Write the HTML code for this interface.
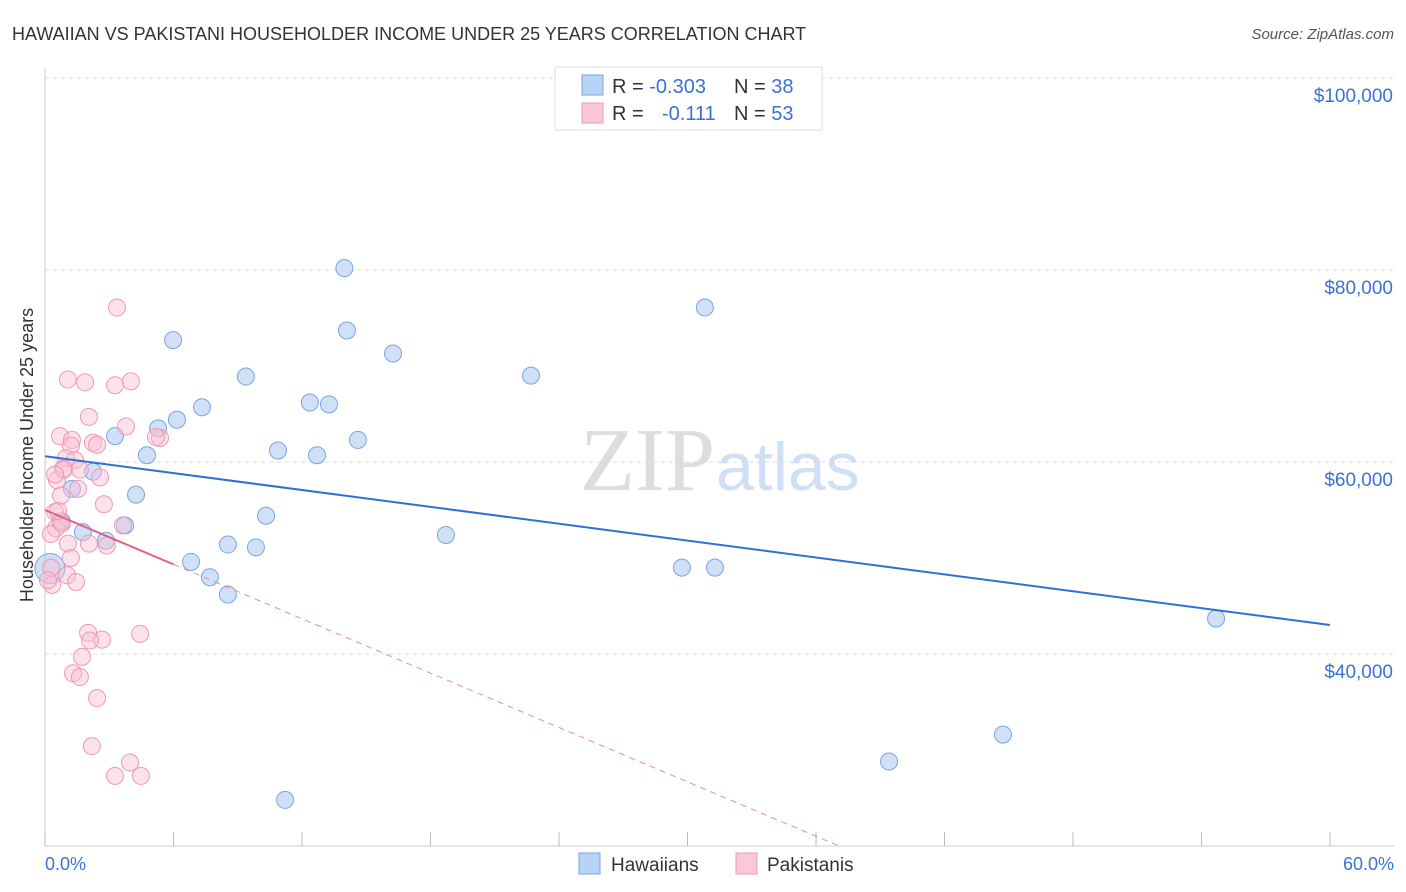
<!DOCTYPE html>
<html><head><meta charset="utf-8"><style>
body{margin:0;background:#fff;font-family:"Liberation Sans",sans-serif;}
svg{display:block}
</style></head><body>
<svg id="c" width="1406" height="892">
<text x="12" y="40" font-size="18" fill="#333">HAWAIIAN VS PAKISTANI HOUSEHOLDER INCOME UNDER 25 YEARS CORRELATION CHART</text>
<text x="1394" y="39" font-size="15" fill="#555" font-style="italic" text-anchor="end">Source: ZipAtlas.com</text>
<text x="715" y="490" font-size="90" fill="#ddd" text-anchor="end" font-family="Liberation Serif">ZIP</text>
<text x="716" y="490" font-size="68" fill="#d0e0f4">atlas</text>
<text transform="translate(33,455) rotate(-90)" font-size="18" fill="#333" text-anchor="middle">Householder Income Under 25 years</text>
<g id="grid"></g><g id="marks"></g>
<g>
<rect x="555" y="67" width="267" height="63" fill="#fff" stroke="#ddd"/>
<rect x="582" y="75" width="21" height="20" fill="#b8d3f5" stroke="#7ba5e0"/>
<rect x="582" y="103" width="21" height="20" fill="#fac8d6" stroke="#ee99b3"/>
<text x="612" y="93" font-size="20" fill="#333">R = <tspan fill="#3a72d4">-0.303</tspan></text>
<text x="734" y="93" font-size="20" fill="#333">N = <tspan fill="#3a72d4">38</tspan></text>
<text x="612" y="120" font-size="20" fill="#333">R = </text><text x="662" y="120" font-size="20" fill="#3a72d4">-0.111</text>
<text x="734" y="120" font-size="20" fill="#333">N = <tspan fill="#3a72d4">53</tspan></text>
</g>
<g>
<rect x="579" y="853" width="21" height="21" fill="#b8d3f5" stroke="#7ba5e0"/>
<text x="611" y="871" font-size="19" fill="#333">Hawaiians</text>
<rect x="736" y="853" width="21" height="21" fill="#fac8d6" stroke="#ee99b3"/>
<text x="767" y="871" font-size="19" fill="#333">Pakistanis</text>
</g>
<text x="45" y="870" font-size="18" fill="#3a72d4">0.0%</text>
<text x="1394" y="870" font-size="18" fill="#3a72d4" text-anchor="end">60.0%</text>
</svg>
<script>
const yTicks=[40000,60000,80000,100000];
const yTickLabels=["$40,000","$60,000","$80,000","$100,000"];
const hawX=[13.98,30.81,14.10,5.98,16.25,9.38,22.69,7.33,12.37,13.26,6.16,5.28,3.27,14.61,4.76,10.88,12.70,2.24,1.26,4.25,10.32,0.79,3.74,1.77,18.72,2.85,6.82,8.54,9.85,7.70,8.54,29.74,31.28,54.68,44.73,39.41,11.21,0.23];
const hawY=[80200,76100,73700,72700,71300,68900,69000,65700,66200,66000,64400,63500,62700,62300,60700,61200,60700,59000,57200,56600,54400,53800,53400,52700,52400,51800,49600,51400,51100,48000,46200,49000,49000,43700,31600,28800,24800,48900];
const pakX=[3.36,1.07,1.87,3.27,4.01,2.05,3.78,0.70,5.37,5.18,1.26,2.24,1.21,2.43,0.98,0.84,0.56,2.57,1.54,0.75,2.75,0.47,0.70,3.64,0.51,0.28,1.07,2.05,2.89,1.21,0.28,1.03,0.33,1.45,0.14,2.01,2.66,4.44,2.10,1.73,1.31,1.63,2.43,2.19,3.97,3.27,4.48,0.79,0.61,1.40,0.89,1.63,0.47];
const pakY=[76100,68600,68300,68000,68400,64700,63700,62700,62500,62600,62300,62000,61700,61800,60400,59300,58100,58400,57200,56500,55600,54800,53800,53400,53100,52500,51500,51500,51300,50000,49000,48200,47200,47500,47700,42200,41500,42100,41400,39700,38000,37600,35400,30400,28700,27300,27300,53600,54900,60200,59200,59200,58700];
const hawTrend=[60600,-293];
const pakTrend=[55000,-944];
const X0=45,X1=1330,yAt40=654,pxPer20k=192;
const sx=p=>X0+(X1-X0)*p/60, sy=v=>yAt40-(v-40000)/20000*pxPer20k;
const NS="http://www.w3.org/2000/svg";
const grid=document.getElementById('grid'),marks=document.getElementById('marks');
function mk(t,a,par){const e=document.createElementNS(NS,t);for(const k in a)e.setAttribute(k,a[k]);par.appendChild(e);return e;}
yTicks.forEach((v,i)=>{
 const l=mk('line',{x1:45,x2:1394,y1:sy(v),y2:sy(v),stroke:'#ddd','stroke-dasharray':'4,4'},grid);
 
 
 const t=mk('text',{x:1393,y:sy(v)+24,'font-size':19,fill:'#3a72d4','text-anchor':'end'},grid);t.textContent=yTickLabels[i];
 
 
});
mk('line',{x1:45,x2:45,y1:68,y2:846,stroke:'#ccc'},grid);
mk('line',{x1:45,x2:1394,y1:846,y2:846,stroke:'#ccc'},grid);
for(let i=0;i<=10;i++){const t=mk('line',{x1:sx(i*6),x2:sx(i*6),y1:832,y2:846,stroke:'#bbb'},grid);
 
 }
hawX.forEach((x,i)=>{const c=mk('circle',{cx:sx(x),cy:sy(hawY[i]),r:i==37?15:8.5,fill:'rgba(168,198,240,0.55)',stroke:'#7ba5e0','stroke-width':1},marks);
 
 });
pakX.forEach((x,i)=>{const c=mk('circle',{cx:sx(x),cy:sy(pakY[i]),r:8.5,fill:'rgba(250,190,210,0.45)',stroke:'#ee99b3','stroke-width':1},marks);
 
 });
const [a,b]=hawTrend;
const hl=mk('line',{x1:sx(0),y1:sy(a),x2:sx(60),y2:sy(a+b*60),stroke:'#2f6fd8','stroke-width':2},marks);


const [pa,pb]=pakTrend;
const pl=mk('line',{x1:sx(0),y1:sy(pa),x2:sx(6),y2:sy(pa+pb*6),stroke:'#e0608a','stroke-width':2},marks);


const xe=(20000-pa)/pb;
const pd=mk('line',{x1:sx(6),y1:sy(pa+pb*6),x2:sx(xe),y2:sy(20000),stroke:'#e88aa8','stroke-width':1,'stroke-dasharray':'6,5'},marks);


</script>
</body></html>
